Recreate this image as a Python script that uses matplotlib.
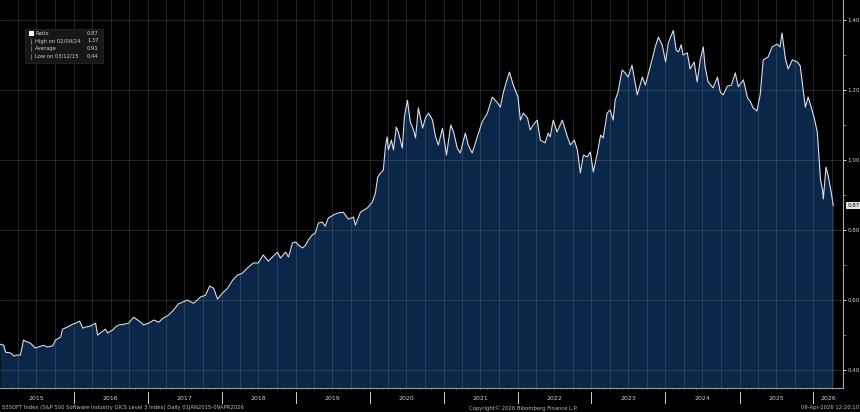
import matplotlib
matplotlib.use('Agg')
import numpy as np
import pandas as pd
import matplotlib.pyplot as plt
import matplotlib.dates as mdates
import matplotlib.transforms as mtransforms
from matplotlib.ticker import MultipleLocator, FormatStrFormatter
from matplotlib.patches import Rectangle

# ratio series
dates = [
    '2015-01-02', '2015-01-20', '2015-01-30', '2015-02-24', '2015-03-12', '2015-03-28', '2015-04-13', '2015-04-28',
    '2015-05-07', '2015-06-01', '2015-06-26', '2015-07-10', '2015-08-05', '2015-08-24', '2015-09-19', '2015-10-03',
    '2015-10-28', '2015-11-07', '2015-12-01', '2015-12-26', '2016-01-10', '2016-01-30', '2016-02-15', '2016-02-29',
    '2016-03-24', '2016-04-18', '2016-04-28', '2016-05-22', '2016-06-06', '2016-06-16', '2016-07-10', '2016-07-25',
    '2016-08-10', '2016-09-04', '2016-09-28', '2016-10-23', '2016-11-12', '2016-11-27', '2016-12-11', '2017-01-05',
    '2017-01-30', '2017-02-24', '2017-03-19', '2017-04-13', '2017-05-07', '2017-06-01', '2017-06-21', '2017-07-15',
    '2017-08-15', '2017-09-19', '2017-10-13', '2017-11-02', '2017-11-22', '2017-12-11', '2018-01-05', '2018-01-30',
    '2018-02-24', '2018-03-19', '2018-04-13', '2018-05-07', '2018-06-06', '2018-07-01', '2018-07-25', '2018-08-19',
    '2018-09-09', '2018-10-03', '2018-10-18', '2018-11-12', '2018-11-27', '2018-12-16', '2019-01-02', '2019-01-15',
    '2019-02-05', '2019-02-19', '2019-03-04', '2019-03-24', '2019-04-08', '2019-04-23', '2019-05-12', '2019-05-27',
    '2019-06-11', '2019-07-06', '2019-07-30', '2019-08-24', '2019-09-19', '2019-10-13', '2019-10-23', '2019-11-17',
    '2019-12-21', '2020-01-15', '2020-01-30', '2020-02-10', '2020-02-24', '2020-03-09', '2020-03-19', '2020-03-28',
    '2020-04-03', '2020-04-18', '2020-04-28', '2020-05-12', '2020-05-22', '2020-06-11', '2020-06-21', '2020-07-06',
    '2020-07-20', '2020-08-05', '2020-08-15', '2020-08-29', '2020-09-19', '2020-10-03', '2020-10-18', '2020-11-07',
    '2020-11-22', '2020-12-06', '2020-12-26', '2021-01-15', '2021-02-05', '2021-02-19', '2021-03-09', '2021-03-24',
    '2021-04-18', '2021-05-02', '2021-05-22', '2021-06-16', '2021-07-10', '2021-08-05', '2021-08-29', '2021-09-24',
    '2021-10-08', '2021-10-23', '2021-11-12', '2021-11-22', '2021-12-11', '2022-01-03', '2022-01-15', '2022-01-30',
    '2022-02-19', '2022-03-04', '2022-03-19', '2022-04-08', '2022-04-23', '2022-05-17', '2022-06-01', '2022-06-11',
    '2022-06-26', '2022-07-15', '2022-08-10', '2022-09-04', '2022-09-19', '2022-10-08', '2022-10-23', '2022-11-07',
    '2022-11-22', '2022-12-11', '2022-12-26', '2023-01-10', '2023-01-30', '2023-02-15', '2023-02-28', '2023-03-19',
    '2023-04-03', '2023-04-18', '2023-04-28', '2023-05-12', '2023-06-01', '2023-06-16', '2023-07-01', '2023-07-20',
    '2023-08-15', '2023-09-09', '2023-09-24', '2023-10-18', '2023-11-12', '2023-11-27', '2023-12-16', '2024-01-02',
    '2024-01-15', '2024-02-09', '2024-02-23', '2024-03-06', '2024-03-19', '2024-03-28', '2024-04-18', '2024-05-02',
    '2024-05-22', '2024-06-06', '2024-06-21', '2024-07-06', '2024-07-15', '2024-07-30', '2024-08-24', '2024-09-14',
    '2024-09-28', '2024-10-13', '2024-11-02', '2024-11-22', '2024-12-11', '2024-12-26', '2025-01-20', '2025-02-10',
    '2025-02-24', '2025-03-09', '2025-03-28', '2025-04-13', '2025-04-28', '2025-05-22', '2025-06-11', '2025-07-06',
    '2025-07-20', '2025-07-30', '2025-08-15', '2025-08-29', '2025-09-19', '2025-10-13', '2025-10-28', '2025-11-07',
    '2025-11-22', '2025-12-06', '2025-12-21', '2026-01-05', '2026-01-20', '2026-01-25', '2026-02-05', '2026-02-15',
    '2026-02-19', '2026-03-04', '2026-03-14', '2026-03-28', '2026-04-09',
]
ratio = [
    0.474, 0.471, 0.451, 0.449, 0.440, 0.443, 0.443, 0.486,
    0.483, 0.477, 0.463, 0.466, 0.471, 0.466, 0.469, 0.486,
    0.494, 0.517, 0.523, 0.531, 0.534, 0.540, 0.520, 0.523,
    0.526, 0.534, 0.500, 0.511, 0.517, 0.506, 0.514, 0.523,
    0.529, 0.531, 0.534, 0.551, 0.543, 0.537, 0.529, 0.534,
    0.543, 0.537, 0.549, 0.557, 0.571, 0.589, 0.594, 0.600,
    0.591, 0.609, 0.614, 0.640, 0.634, 0.603, 0.620, 0.634,
    0.657, 0.671, 0.677, 0.691, 0.706, 0.706, 0.729, 0.711,
    0.723, 0.737, 0.720, 0.737, 0.723, 0.763, 0.766, 0.757,
    0.749, 0.757, 0.771, 0.786, 0.791, 0.820, 0.823, 0.811,
    0.834, 0.843, 0.849, 0.851, 0.831, 0.837, 0.814, 0.851,
    0.863, 0.880, 0.906, 0.951, 0.963, 0.971, 1.037, 1.066,
    1.029, 1.057, 1.029, 1.094, 1.080, 1.034, 1.123, 1.171,
    1.109, 1.086, 1.063, 1.149, 1.091, 1.120, 1.134, 1.114,
    1.066, 1.043, 1.091, 1.014, 1.100, 1.080, 1.034, 1.020,
    1.077, 1.043, 1.020, 1.066, 1.109, 1.134, 1.180, 1.163,
    1.151, 1.194, 1.234, 1.251, 1.214, 1.180, 1.114, 1.134,
    1.120, 1.086, 1.100, 1.114, 1.057, 1.049, 1.077, 1.066,
    1.114, 1.080, 1.114, 1.066, 1.043, 1.057, 1.029, 0.963,
    1.014, 1.009, 1.023, 0.966, 1.020, 1.071, 1.063, 1.134,
    1.143, 1.114, 1.171, 1.194, 1.257, 1.249, 1.237, 1.271,
    1.186, 1.237, 1.214, 1.266, 1.323, 1.351, 1.329, 1.280,
    1.334, 1.370, 1.314, 1.309, 1.329, 1.300, 1.306, 1.260,
    1.280, 1.223, 1.286, 1.323, 1.266, 1.223, 1.206, 1.237,
    1.194, 1.186, 1.211, 1.214, 1.249, 1.209, 1.229, 1.177,
    1.166, 1.149, 1.140, 1.186, 1.286, 1.294, 1.323, 1.331,
    1.323, 1.363, 1.291, 1.260, 1.286, 1.280, 1.269, 1.220,
    1.151, 1.180, 1.151, 1.120, 1.080, 1.037, 0.943, 0.914,
    0.889, 0.980, 0.957, 0.914, 0.870,
]

legend_labels = ['Ratio', 'High on 02/09/24', 'Average', 'Low on 03/12/15']
legend_values = ['0.87', '1.37', '0.91', '0.44']
year_labels = [str(y) for y in range(2015, 2027)]
last_value = '0.87'

footer_left = 'S5SOFT Index (S&P 500 Software Industry GICS Level 3 Index) Daily 01JAN2015-09APR2026'
footer_mid = 'Copyright\u00a9 2026 Bloomberg Finance L.P.'
footer_right = '09-Apr-2026 12:20:10'

plt.rcParams['font.family'] = 'DejaVu Sans'

x = pd.to_datetime(dates)
y = np.array(ratio)

W, H = 860, 412
fig = plt.figure(figsize=(W / 100, H / 100), dpi=100, facecolor='black')
ax = fig.add_axes([0, 24 / H, 843 / W, 388 / H], facecolor='black')

ymin, ymax = 0.349, 1.457
ax.set_ylim(ymin, ymax)
xlo, xhi = pd.Timestamp('2015-01-02'), pd.Timestamp('2026-05-27')
ax.set_xlim(xlo, xhi)

# area + line
ax.fill_between(x, y, ymin, color='#0a2749', lw=0, zorder=2)
ax.plot(x, y, color='#d9dee6', lw=0.8, zorder=4)

# grid: quarterly verticals, 0.2 horizontals
for q in pd.date_range('2015-04-01', '2026-04-01', freq='QS'):
    ax.axvline(q, color='#8795a3', lw=0.5, alpha=0.35, zorder=3)
for h in np.arange(0.4, 1.41, 0.2):
    ax.axhline(h, color='#8795a3', lw=0.5, alpha=0.35, zorder=3)

# spines
for s in ['left', 'top']:
    ax.spines[s].set_visible(False)
ax.spines['bottom'].set_color('#9a9a9a')
ax.spines['bottom'].set_linewidth(0.8)
ax.spines['right'].set_color('#b0b0b0')
ax.spines['right'].set_linewidth(0.8)

# x ticks: monthly small marks, years as labels below
ax.xaxis.set_major_locator(mdates.MonthLocator())
ax.xaxis.set_major_formatter(plt.NullFormatter())
ax.tick_params(axis='x', which='major', length=2, width=0.5, color='#9a9a9a', direction='inout')

trans = mtransforms.blended_transform_factory(ax.transData, ax.transAxes)
for yr in range(2016, 2027):
    ax.plot([pd.Timestamp(f'{yr}-01-01')] * 2, [-4 / 388, -15 / 388], color='#cfcfcf', lw=0.7,
            transform=trans, clip_on=False)
for lab in year_labels:
    # label sits in the middle of the visible part of each year
    start = max(pd.Timestamp(f'{lab}-01-01'), xlo)
    end = min(pd.Timestamp(f'{lab}-12-31'), xhi)
    mid = start + (end - start) / 2
    ax.text(mid, -11 / 388, lab, transform=trans, ha='center', va='center',
            fontsize=4.5, color='#cfcfcf')

# right y axis
ax.yaxis.tick_right()
ax.yaxis.set_major_locator(MultipleLocator(0.2))
ax.yaxis.set_minor_locator(MultipleLocator(0.1))
ax.yaxis.set_major_formatter(FormatStrFormatter('%.2f'))
ax.tick_params(axis='y', which='major', length=2.5, width=0.7, color='#cfcfcf', labelsize=4.1,
               labelcolor='#cfcfcf', pad=0.8)
ax.tick_params(axis='y', which='minor', length=1.8, width=0.5, color='#9a9a9a')

# last value tag
ttrans = mtransforms.blended_transform_factory(ax.transAxes, ax.transData)
ax.text(1.005, y[-1], last_value, transform=ttrans, ha='left', va='center', fontsize=4.0, color='black',
        bbox=dict(boxstyle='square,pad=0.15', fc='#e4e4e4', ec='none'), zorder=6, clip_on=False)

# legend box (top left)
def fx(px):
    return px / W

def fy(py):
    return 1 - py / H

fig.patches.append(Rectangle((fx(25), fy(63)), fx(103) - fx(25), fy(29) - fy(63), transform=fig.transFigure,
                             fc='#171717', ec='#2c2c2c', lw=0.5, zorder=5))
rows = [33.5, 41, 48.5, 56]
for i, (lab, val) in enumerate(zip(legend_labels, legend_values)):
    fig.text(fx(35), fy(rows[i]), lab, fontsize=3.8, color='#d0d0d0', va='center', zorder=6)
    fig.text(fx(87), fy(rows[i]), val, fontsize=3.8, color='#d0d0d0', va='center', zorder=6)
fig.patches.append(Rectangle((fx(29), fy(36)), fx(5), fy(31) - fy(36), transform=fig.transFigure,
                             fc='white', ec='none', zorder=6))
for r in rows[1:]:
    fig.lines.append(plt.Line2D([fx(31), fx(31)], [fy(r + 2.5), fy(r - 2.5)], transform=fig.transFigure,
                                color='#8a8a8a', lw=0.5, zorder=6))

# footer
fig.text(fx(2), fy(408), footer_left, fontsize=3.8, color='#bdbdbd', va='center', ha='left')
fig.text(fx(469), fy(408), footer_mid, fontsize=3.8, color='#bdbdbd', va='center', ha='left')
fig.text(fx(859), fy(408), footer_right, fontsize=3.8, color='#bdbdbd', va='center', ha='right')

fig.savefig('out.png', dpi=100, facecolor='black')
